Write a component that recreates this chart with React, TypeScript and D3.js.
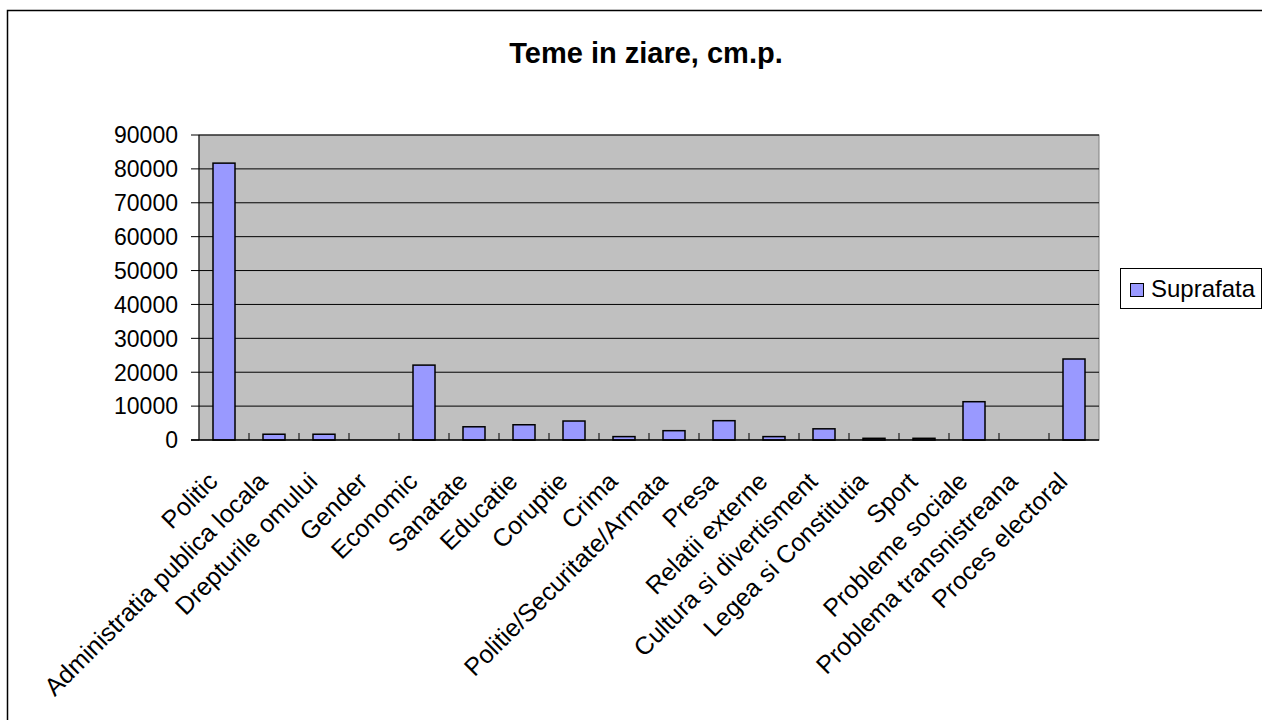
import React from 'react';
import * as d3 from 'd3';

const categories = [
  'Politic', 'Administratia publica locala', 'Drepturile omului', 'Gender', 'Economic',
  'Sanatate', 'Educatie', 'Coruptie', 'Crima', 'Politie/Securitate/Armata', 'Presa',
  'Relatii externe', 'Cultura si divertisment', 'Legea si Constitutia', 'Sport',
  'Probleme sociale', 'Problema transnistreana', 'Proces electoral'
];
const suprafata = [
  81700, 1700, 1700, 0, 22100, 3900, 4500, 5600, 1000, 2750, 5700,
  1000, 3300, 500, 500, 11300, 0, 23900
];
const yTicks = [0, 10000, 20000, 30000, 40000, 50000, 60000, 70000, 80000, 90000];
const seriesName = 'Suprafata';
const title = 'Teme in ziare, cm.p.';

const W = 1262;
const H = 720;
const plot = { left: 199, right: 1099, top: 135, bottom: 440 };
const font = '"Liberation Sans", Arial, sans-serif';

const App = () => {
  const x = d3.scaleBand<string>()
    .domain(categories)
    .range([plot.left, plot.right])
    .padding(0);
  const y = d3.scaleLinear()
    .domain([0, 90000])
    .range([plot.bottom, plot.top]);

  const barW = x.bandwidth() * 0.44;

  return (
    <svg width={W} height={H} style={{ position: 'absolute', left: 0, top: 0 }}
      fontFamily={font}>
      <rect x={0} y={0} width={W} height={H} fill="#fff" />
      {/* chart frame */}
      <rect x={7.5} y={10.5} width={1400} height={900} fill="#fff" stroke="#000" strokeWidth={1.5} />

      <text x={646} y={63} textAnchor="middle" fontSize={29} fontWeight="bold">{title}</text>

      {/* plot area */}
      <rect x={plot.left} y={plot.top} width={plot.right - plot.left} height={plot.bottom - plot.top}
        fill="#C0C0C0" stroke="#808080" strokeWidth={1} />

      {yTicks.map(t => (
        <g key={t}>
          {t > 0 && (
            <line x1={plot.left} x2={plot.right} y1={y(t)} y2={y(t)} stroke="#000" strokeWidth={1} />
          )}
          <line x1={plot.left - 8} x2={plot.left} y1={y(t)} y2={y(t)} stroke="#000" strokeWidth={1} />
          <text x={178} y={y(t)} dy="0.36em" textAnchor="end" fontSize={23}>{t}</text>
        </g>
      ))}

      {/* bars */}
      {categories.map((c, i) => {
        const cx = (x(c) as number) + x.bandwidth() / 2;
        const v = suprafata[i];
        if (v <= 0) return null;
        return (
          <rect key={c} x={cx - barW / 2} y={y(v)} width={barW} height={y(0) - y(v)}
            fill="#9999FF" stroke="#000" strokeWidth={1.5} />
        );
      })}

      {/* axes */}
      <line x1={plot.left} x2={plot.left} y1={plot.top} y2={plot.bottom} stroke="#000" strokeWidth={1} />
      <line x1={plot.left - 8} x2={plot.right} y1={plot.bottom} y2={plot.bottom} stroke="#000" strokeWidth={1.5} />
      {categories.slice(1).map(c => (
        <line key={c} x1={x(c) as number} x2={x(c) as number} y1={plot.bottom - 7} y2={plot.bottom}
          stroke="#000" strokeWidth={1} />
      ))}

      {/* category labels */}
      {categories.map(c => {
        const lx = (x(c) as number) + x.bandwidth() / 2 - 5;
        const ly = 483;
        return (
          <text key={c} x={lx} y={ly} textAnchor="end" fontSize={25}
            transform={`rotate(-45, ${lx}, ${ly})`}>{c}</text>
        );
      })}

      {/* legend */}
      <rect x={1120.5} y={268.5} width={141} height={40} fill="#fff" stroke="#000" strokeWidth={1} />
      <rect x={1130.5} y={283.5} width={13} height={13} fill="#9999FF" stroke="#000" strokeWidth={1} />
      <text x={1151} y={297} fontSize={24}>{seriesName}</text>
    </svg>
  );
};

export default App;
